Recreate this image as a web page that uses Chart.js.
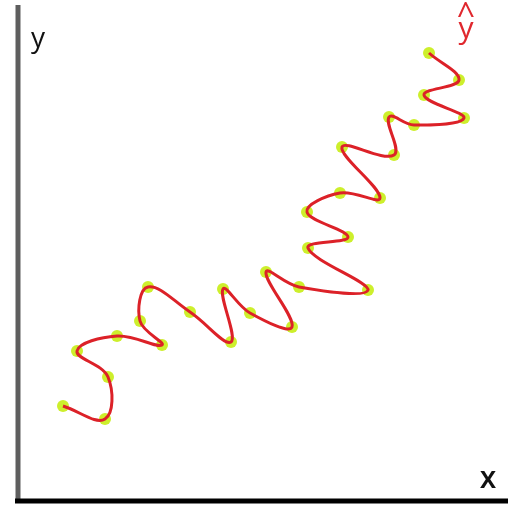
<!DOCTYPE html>
<html>
<head>
<meta charset="utf-8">
<script src="https://cdn.jsdelivr.net/npm/chart.js@4/dist/chart.umd.min.js"></script>
<style>
  html, body { margin: 0; padding: 0; background: #ffffff; }
  #wrap { width: 508px; height: 509px; }
</style>
</head>
<body>
<div id="wrap"><canvas id="c" width="508" height="509"></canvas></div>
<script>
// Observed samples, in the order the fitted curve visits them
const xValues = [45, 87, 90, 59, 99, 144, 122, 130, 172, 213, 205, 232, 274, 248, 281, 350,
                 290, 330, 289, 322, 362, 324, 376, 371, 396, 446, 406, 441, 411];
const yValues = [95, 82, 124, 150, 165, 156, 180, 214, 189, 159, 212, 188, 174, 229, 214, 211,
                 253, 264, 289, 308, 303, 354, 346, 384, 376, 383, 406, 421, 448];

// Axis labels
const xAxisLabel = 'x';
const yAxisLabel = 'y';
const predictionLabel = 'y';
const predictionMark = '^';

const points = xValues.map((x, i) => ({ x: x, y: yValues[i] }));

// Draws the two axis lines and their labels from the scale positions
const axesPlugin = {
  id: 'axesPlugin',
  afterDatasetsDraw(chart) {
    const { ctx, scales } = chart;
    const sx = scales.x, sy = scales.y;
    const x0 = sx.getPixelForValue(0);
    const y0 = sy.getPixelForValue(0);
    ctx.save();
    // vertical axis
    ctx.strokeStyle = '#5e5e5e';
    ctx.lineWidth = 5;
    ctx.beginPath();
    ctx.moveTo(x0, sy.getPixelForValue(496));
    ctx.lineTo(x0, y0 + 2);
    ctx.stroke();
    // horizontal axis
    ctx.strokeStyle = '#000000';
    ctx.lineWidth = 5;
    ctx.beginPath();
    ctx.moveTo(sx.getPixelForValue(-3), y0);
    ctx.lineTo(sx.getPixelForValue(490), y0);
    ctx.stroke();

    ctx.textAlign = 'center';
    ctx.textBaseline = 'alphabetic';
    ctx.fillStyle = '#111111';
    ctx.font = '28px "Open Sans"';
    ctx.fillText(yAxisLabel, sx.getPixelForValue(20), sy.getPixelForValue(454));
    ctx.font = '600 30px "Open Sans"';
    ctx.fillText(xAxisLabel, sx.getPixelForValue(470), sy.getPixelForValue(13));

    ctx.fillStyle = '#e0282e';
    ctx.font = '30px "Open Sans"';
    ctx.fillText(predictionLabel, sx.getPixelForValue(448), sy.getPixelForValue(463));
    ctx.font = '32px "Open Sans"';
    ctx.fillText(predictionMark, sx.getPixelForValue(448), sy.getPixelForValue(475));
    ctx.restore();
  }
};

new Chart(document.getElementById('c'), {
  type: 'scatter',
  data: {
    datasets: [
      {
        label: 'fit',
        data: points,
        showLine: true,
        borderColor: '#dc2128',
        borderWidth: 3,
        tension: 0.4,
        pointRadius: 0,
        pointHoverRadius: 0,
        clip: false,
        order: 0
      },
      {
        label: 'samples',
        data: points,
        showLine: false,
        pointRadius: 6,
        pointBorderWidth: 0,
        pointBackgroundColor: '#cdef2c',
        clip: false,
        order: 1
      }
    ]
  },
  options: {
    responsive: false,
    animation: false,
    layout: { padding: 0 },
    plugins: {
      legend: { display: false },
      tooltip: { enabled: false },
      title: { display: false }
    },
    // the plot area is inset by the point radius, so the bounds cover that margin
    scales: {
      x: { type: 'linear', min: -12, max: 484, display: false },
      y: { type: 'linear', min: -2, max: 495, display: false }
    }
  },
  plugins: [axesPlugin]
});
</script>
</body>
</html>
